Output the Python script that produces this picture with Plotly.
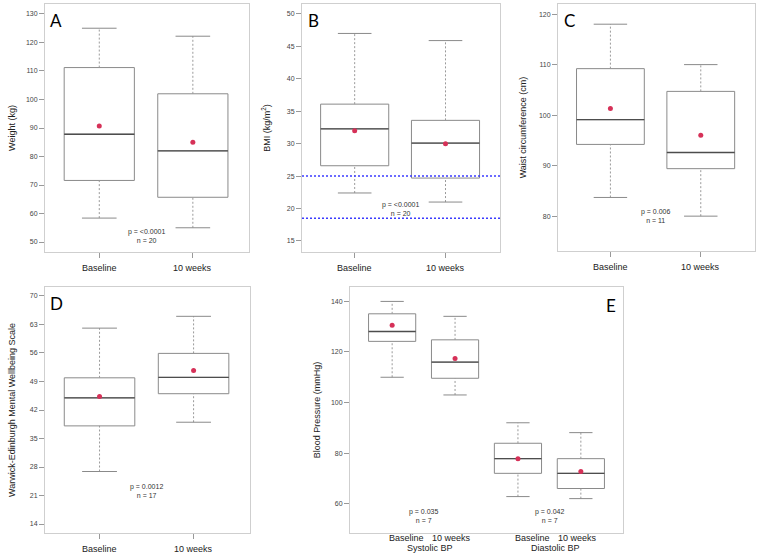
import plotly.graph_objects as go

# ---------------- data ----------------
groups = ["Baseline", "10 weeks"]

# Panel A: Weight (kg)
weight_low = [58.4, 55.0]
weight_q1 = [71.6, 65.7]
weight_median = [87.8, 82.0]
weight_q3 = [111.2, 102.0]
weight_high = [125.0, 122.2]
weight_mean = [90.7, 85.0]

# Panel B: BMI
bmi_low = [22.4, 21.0]
bmi_q1 = [26.6, 24.7]
bmi_median = [32.3, 30.1]
bmi_q3 = [36.1, 33.6]
bmi_high = [47.0, 45.9]
bmi_mean = [32.0, 30.0]
bmi_reference_lines = [25.0, 18.5]

# Panel C: Waist circumference (cm)
waist_low = [83.7, 80.0]
waist_q1 = [94.2, 89.4]
waist_median = [99.1, 92.6]
waist_q3 = [109.2, 104.7]
waist_high = [118.0, 110.0]
waist_mean = [101.3, 96.0]

# Panel D: WEMWBS
wemwbs_low = [26.9, 39.0]
wemwbs_q1 = [38.1, 46.0]
wemwbs_median = [45.0, 50.0]
wemwbs_q3 = [49.9, 55.9]
wemwbs_high = [62.1, 65.0]
wemwbs_mean = [45.3, 51.7]

# Panel E: Blood pressure (Systolic baseline, Systolic 10 wk, Diastolic baseline, Diastolic 10 wk)
bp_groups = ["Systolic BP", "Diastolic BP"]
bp_labels = ["Baseline", "10 weeks", "Baseline", "10 weeks"]
bp_low = [110.0, 103.0, 62.8, 62.0]
bp_q1 = [124.2, 109.6, 72.0, 66.0]
bp_median = [128.1, 116.0, 77.8, 72.0]
bp_q3 = [135.1, 124.8, 83.9, 77.8]
bp_high = [140.0, 134.1, 92.0, 88.1]
bp_mean = [130.6, 117.4, 77.8, 72.7]

stats_text = {
    "A": "p = <0.0001<br>n = 20",
    "B": "p = <0.0001<br>n = 20",
    "C": "p = 0.006<br>n = 11",
    "D": "p = 0.0012<br>n = 17",
    "E1": "p = 0.035<br>n = 7",
    "E2": "p = 0.042<br>n = 7",
}

# ---------------- style ----------------
W, H = 762, 558
BOX_LINE = "#8a8a8a"
MEDIAN_LINE = "#4d4d4d"
WHISKER = "#9a9a9a"
MEAN_COL = "#d63158"
FRAME = "#cfcfcf"
TICKFONT = dict(family="Liberation Sans, Arial", size=7, color="#444444")
LABFONT = dict(family="Liberation Sans, Arial", size=9, color="#222222")
SMALLFONT = dict(family="Liberation Sans, Arial", size=7, color="#333333")
LETTERFONT = dict(family="Lato, Open Sans", size=17, color="#000000")
BOXW = 0.75
CAPW = 0.37

fig = go.Figure()


def px_dom(x0, x1, y0, y1):
    return [x0 / W, x1 / W], [1 - y1 / H, 1 - y0 / H]


def add_boxes(xa, ya, pos, low, q1, med, q3, high, mean):
    xs, ys = [], []
    cx, cy = [], []
    mx, my = [], []
    for p, lo, a, m, b, hi in zip(pos, low, q1, med, q3, high):
        xs += [p, p, None, p, p, None]
        ys += [lo, a, None, b, hi, None]
        cx += [p - CAPW / 2, p + CAPW / 2, None, p - CAPW / 2, p + CAPW / 2, None]
        cy += [lo, lo, None, hi, hi, None]
        mx += [p - BOXW / 2, p + BOXW / 2, None]
        my += [m, m, None]
    fig.add_trace(go.Scatter(x=xs, y=ys, mode="lines", xaxis=xa, yaxis=ya,
                             line=dict(color=WHISKER, width=1, dash="2px,2px"),
                             showlegend=False, hoverinfo="skip"))
    fig.add_trace(go.Scatter(x=cx, y=cy, mode="lines", xaxis=xa, yaxis=ya,
                             line=dict(color=BOX_LINE, width=1),
                             showlegend=False, hoverinfo="skip"))
    fig.add_trace(go.Box(x=pos, q1=q1, median=med, q3=q3,
                         lowerfence=q1, upperfence=q3,
                         width=BOXW, whiskerwidth=0,
                         xaxis=xa, yaxis=ya,
                         line=dict(color=BOX_LINE, width=1),
                         fillcolor="rgba(255,255,255,0)",
                         showlegend=False))
    fig.add_trace(go.Scatter(x=mx, y=my, mode="lines", xaxis=xa, yaxis=ya,
                             line=dict(color=MEDIAN_LINE, width=1.3),
                             showlegend=False, hoverinfo="skip"))
    fig.add_trace(go.Scatter(x=pos, y=mean, mode="markers", xaxis=xa, yaxis=ya,
                             marker=dict(color=MEAN_COL, size=5),
                             showlegend=False))


panels = [
    # key, x axis, y axis, frame px, y range, dtick, tick0, title, standoff, data, p-text y
    ("A", "x", "y", (45, 249, 4, 252), [46.5, 133.5], 10, 50, "Weight (kg)", 8,
     (weight_low, weight_q1, weight_median, weight_q3, weight_high, weight_mean), 52.0),
    ("B", "x2", "y2", (302, 500, 4, 252), [13.3, 51.54], 5, 15, "BMI (kg/m<sup>2</sup>)", 14,
     (bmi_low, bmi_q1, bmi_median, bmi_q3, bmi_high, bmi_mean), 19.9),
    ("C", "x3", "y3", (558, 755, 4, 251), [73.1, 122.0], 10, 80, "Waist circumference (cm)", 10,
     (waist_low, waist_q1, waist_median, waist_q3, waist_high, waist_mean), 80.0),
    ("D", "x4", "y4", (45, 250, 287, 533), [11.8, 72.2], 7, 14,
     "Warwick-Edinburgh Mental Wellbeing Scale", 12,
     (wemwbs_low, wemwbs_q1, wemwbs_median, wemwbs_q3, wemwbs_high, wemwbs_mean), 22.0),
]

layout = dict(width=W, height=H, margin=dict(l=0, r=0, t=0, b=0),
              paper_bgcolor="white", plot_bgcolor="white", showlegend=False,
              hovermode=False)
annotations = []
shapes = []

for key, xa, ya, (x0, x1, y0, y1), yr, dt, t0, title, so, data, ann_y in panels:
    xd, yd = px_dom(x0, x1, y0, y1)
    xname = "xaxis" + xa[1:]
    yname = "yaxis" + ya[1:]
    layout[xname] = dict(domain=xd, anchor=ya, range=[0.42, 2.6],
                         tickvals=[1, 2], showticklabels=False, ticks="outside",
                         ticklen=5, tickcolor="#999999",
                         showline=True, mirror=True, linecolor=FRAME, linewidth=1,
                         showgrid=False, zeroline=False, fixedrange=True)
    layout[yname] = dict(domain=yd, anchor=xa, range=yr, tick0=t0, dtick=dt,
                         ticks="outside", ticklen=5, tickcolor="#999999",
                         tickfont=TICKFONT, showline=True, mirror=True,
                         linecolor=FRAME, linewidth=1, showgrid=False, zeroline=False,
                         title=dict(text=title, font=LABFONT, standoff=so))
    add_boxes(xa, ya, [1, 2], *data)
    for p, g in zip([1, 2], groups):
        annotations.append(dict(x=p, y=0, xref=xa, yref=ya + " domain", text=g,
                                showarrow=False, font=LABFONT, yanchor="middle",
                                yshift=-16))
    annotations.append(dict(x=1.5, y=ann_y, xref=xa, yref=ya, text=stats_text[key],
                            showarrow=False, font=SMALLFONT, align="center"))
    annotations.append(dict(x=(x0 + 11) / W, y=1 - (y0 + 16) / H, xref="paper", yref="paper",
                            text=key, showarrow=False, xanchor="center", yanchor="middle",
                            font=LETTERFONT))

for yv in bmi_reference_lines:
    shapes.append(dict(type="line", xref="x2 domain", yref="y2", x0=0, x1=1, y0=yv, y1=yv,
                       line=dict(color="#3b3bff", width=1.5, dash="2px,2px")))

# Panel E
xd, yd = px_dom(350, 623, 287, 533)
layout["xaxis5"] = dict(domain=xd, anchor="y5", range=[0.33, 4.67],
                        showticklabels=False, ticks="",
                        showline=True, mirror=True, linecolor=FRAME, linewidth=1,
                        showgrid=False, zeroline=False)
layout["yaxis5"] = dict(domain=yd, anchor="x5", range=[48.4, 145.7], tick0=60, dtick=20,
                        ticks="outside", ticklen=5, tickcolor="#999999", tickfont=TICKFONT,
                        showline=True, mirror=True, linecolor=FRAME, linewidth=1,
                        showgrid=False, zeroline=False,
                        title=dict(text="Blood Pressure (mmHg)", font=LABFONT, standoff=8))
add_boxes("x5", "y5", [1, 2, 3, 4], bp_low, bp_q1, bp_median, bp_q3, bp_high, bp_mean)
for xl, lab in zip([1.23, 1.95, 3.23, 3.95], bp_labels):
    annotations.append(dict(x=xl, y=0, xref="x5", yref="y5 domain", text=lab,
                            showarrow=False, font=LABFONT, yanchor="middle", yshift=-5))
for xg, name in zip([1.6, 3.6], bp_groups):
    annotations.append(dict(x=xg, y=0, xref="x5", yref="y5 domain", text=name,
                            showarrow=False, font=LABFONT, yanchor="middle", yshift=-15))
for xg, key in zip([1.5, 3.5], ["E1", "E2"]):
    annotations.append(dict(x=xg, y=55.1, xref="x5", yref="y5", text=stats_text[key],
                            showarrow=False, font=SMALLFONT))
annotations.append(dict(x=611 / W, y=1 - 305 / H, xref="paper", yref="paper", text="E",
                        showarrow=False, xanchor="center", yanchor="middle",
                        font=LETTERFONT))

layout["annotations"] = annotations
layout["shapes"] = shapes
fig.update_layout(**layout)
fig.write_html("out.html", config={"displayModeBar": False},
               post_script="document.body.style.margin='0';")
